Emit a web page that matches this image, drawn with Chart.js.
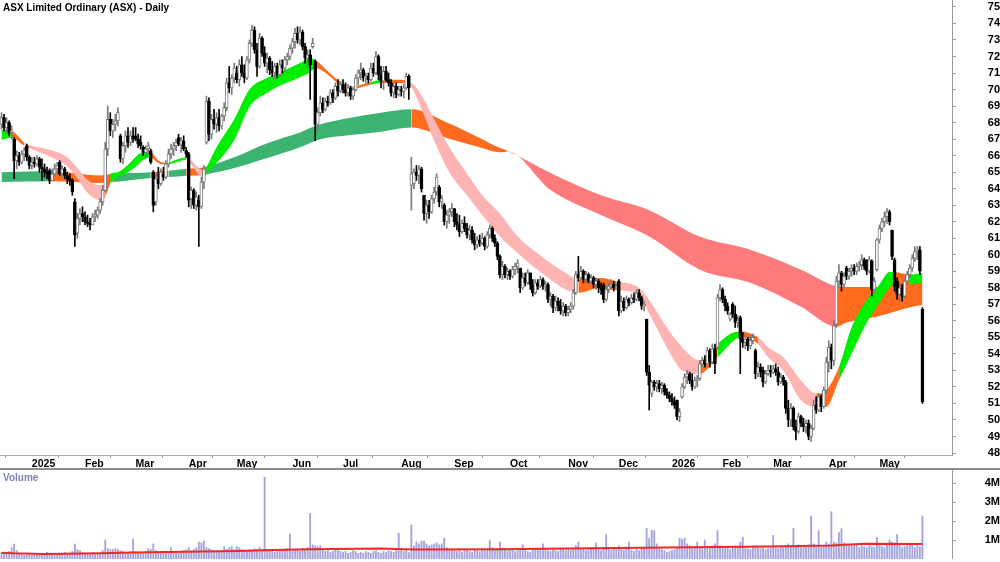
<!DOCTYPE html>
<html lang="en">
<head>
<meta charset="UTF-8">
<title>ASX Limited Ordinary (ASX) - Daily</title>
<script src="https://cdn.jsdelivr.net/npm/chart.js"></script>
<style>
  html, body { margin: 0; padding: 0; background: #fff; }
  .wrap { position: relative; width: 1000px; height: 562px; overflow: hidden; font-family: Arial, "Liberation Sans", sans-serif; }
  #priceChart { position: absolute; left: 0; top: 0; }
  #volChart { position: absolute; left: 0; top: 469px; }
  .sep { position: absolute; left: 0; top: 468px; width: 1000px; height: 2px; background: #8c8c8c; }
  .label { position: absolute; left: 3px; font-weight: bold; font-size: 10px; line-height: 12px; white-space: nowrap; }
</style>
</head>
<body>
<div class="wrap">
  <canvas id="priceChart" width="1000" height="470"></canvas>
  <canvas id="volChart" width="1000" height="90"></canvas>
  <div class="sep"></div>
  <div class="label" style="top:2px;color:#000">ASX Limited Ordinary (ASX) - Daily</div>
  <div class="label" style="top:472px;color:#8080c0">Volume</div>
</div>
<script>
// one entry per trading day, Dec 2024 .. May 2026
const open = [
  67.9,68.3,67.7,68.0,67.4,67.0,65.7,66.0,65.6,66.1,66.6,65.9,
  65.4,65.6,65.5,65.8,65.3,65.2,65.0,65.1,64.5,64.9,65.2,65.6,64.9,65.2,64.8,64.6,64.5,63.2,61.3,62.2,62.5,
  62.3,62.0,61.9,61.8,62.3,62.4,62.7,63.2,63.9,66.4,68.2,67.5,67.9,68.1,67.2,65.8,66.6,67.2,66.8,67.2,
  67.2,67.0,66.8,66.5,66.2,66.4,66.3,65.0,63.2,64.6,64.3,64.9,64.7,65.5,66.1,66.4,66.6,67.1,66.7,66.9,66.3,
  66.1,63.4,63.9,63.0,63.3,62.9,64.4,66.8,69.3,67.3,68.2,67.9,68.3,67.8,68.4,68.9,70.4,70.1,70.7,
  71.0,70.6,71.5,71.0,70.7,71.8,72.8,73.6,72.4,71.4,73.1,72.2,71.6,71.9,71.2,71.0,71.4,70.9,71.5,71.3,71.8,72.0,
  72.5,72.9,73.4,73.0,73.5,72.6,71.9,72.1,72.6,71.7,67.9,68.6,69.2,68.8,69.3,69.2,69.8,69.5,70.2,69.9,
  70.3,70.0,69.8,70.1,69.6,70.0,70.7,71.0,71.2,70.7,70.8,70.6,71.3,71.0,72.0,70.9,70.5,71.1,70.6,70.4,69.8,70.2,69.7,
  70.0,69.9,70.1,70.8,64.2,64.3,65.0,64.8,65.2,63.6,62.5,63.0,62.6,63.4,63.8,64.1,63.2,63.0,62.0,62.4,62.6,
  62.8,62.0,61.8,61.4,61.9,61.6,61.2,61.5,60.9,60.6,60.9,60.7,61.0,60.5,61.2,61.6,61.0,60.7,59.9,58.8,59.3,58.8,
  59.0,58.7,59.1,59.3,59.2,58.0,58.6,58.3,58.9,58.2,57.7,58.3,58.1,58.5,58.1,58.2,57.3,57.5,56.8,57.2,56.9,56.6,56.9,
  56.5,56.7,56.9,57.7,58.8,58.6,59.0,58.5,58.8,58.4,58.6,58.2,58.4,58.0,58.2,57.3,57.9,58.1,58.2,58.0,
  58.4,56.6,57.2,56.8,57.3,57.1,57.4,57.3,57.7,57.4,56.9,56.1,52.9,51.6,52.3,52.0,52.2,51.9,52.1,51.7,51.5,
  51.3,51.1,51.2,50.2,51.4,52.0,52.6,52.8,52.4,52.0,52.4,52.5,53.4,53.6,53.4,54.2,53.5,54.3,54.4,57.4,
  57.9,57.3,56.9,56.1,57.0,56.4,55.9,56.2,54.9,54.7,54.9,54.5,54.8,54.2,52.8,53.2,53.0,52.3,52.8,53.0,
  52.9,53.1,52.9,52.3,52.6,52.3,50.7,50.0,50.7,49.6,49.3,50.2,49.8,49.6,49.8,49.0,49.5,50.9,50.6,51.4,50.8,51.8,
  53.5,54.4,53.6,55.8,58.4,58.9,58.2,59.2,58.7,59.0,59.2,59.0,59.3,59.4,59.7,59.7,59.0,59.6,57.9,59.1,
  60.9,61.6,62.0,62.3,62.6,61.5,59.7,58.4,57.6,58.0,57.5,58.4,58.8,59.2,59.8,60.2,60.3,56.7
];
const high = [
  68.6,68.5,68.3,68.1,67.8,67.1,66.3,66.2,66.3,66.5,66.7,66.0,
  65.9,65.9,66.0,65.9,65.8,65.5,65.3,65.2,65.2,65.5,65.6,65.7,65.4,65.3,65.0,64.9,64.6,63.4,62.5,62.8,62.9,
  62.6,62.4,62.2,62.5,62.7,62.9,63.4,64.2,66.8,69.0,68.6,68.2,68.5,68.9,67.3,66.8,67.5,67.7,67.5,67.7,
  67.7,67.3,67.2,66.6,66.6,66.8,66.4,65.1,64.9,65.3,65.2,65.3,65.7,66.4,66.7,66.8,67.0,67.3,67.1,67.2,66.5,
  66.2,64.1,64.0,63.8,63.6,64.7,65.4,69.6,69.5,68.5,68.8,68.6,68.8,68.5,69.2,70.7,71.4,70.9,71.6,
  71.4,71.8,72.0,71.5,72.0,73.0,73.9,73.8,72.8,73.4,73.2,72.6,72.2,72.0,71.7,71.6,71.6,71.8,71.8,72.0,72.2,72.7,
  73.1,73.7,73.8,73.8,73.6,72.8,72.4,72.4,73.1,71.8,68.9,69.6,69.5,69.5,69.6,70.0,70.0,70.4,70.6,70.5,
  70.6,70.4,70.3,70.2,70.1,70.9,71.2,71.6,71.3,71.0,71.0,71.6,71.6,72.3,72.1,71.4,71.4,71.4,71.0,70.6,70.4,70.4,70.2,
  70.2,70.3,71.0,70.9,65.9,65.2,65.4,65.4,65.3,63.6,63.3,63.3,63.6,64.1,64.9,64.2,63.6,63.1,62.7,62.8,63.1,
  62.8,62.5,62.4,62.1,62.3,61.9,61.8,61.7,61.3,61.1,61.2,61.3,61.1,61.4,61.8,61.7,61.2,60.8,60.0,59.6,59.4,59.2,
  59.1,59.3,59.5,59.7,59.2,58.9,58.9,59.1,58.9,58.5,58.5,58.5,58.7,58.6,58.4,58.3,57.7,57.6,57.5,57.4,57.3,57.1,57.0,
  56.9,57.1,57.9,59.0,59.9,59.3,59.1,59.0,58.9,58.8,58.7,58.6,58.5,58.3,58.3,58.1,58.3,58.5,58.4,58.3,
  58.5,57.5,57.4,57.5,57.4,57.6,57.7,57.9,57.9,57.5,57.2,56.1,53.3,52.4,52.4,52.4,52.4,52.3,52.2,51.9,51.7,
  51.6,51.4,51.2,50.7,52.2,52.8,53.0,52.9,52.8,52.6,52.7,53.6,53.8,53.9,54.4,54.3,54.6,54.6,57.6,58.2,
  58.0,57.5,57.1,56.5,57.1,56.9,56.3,56.3,55.3,55.2,55.0,55.1,55.2,54.3,53.5,53.4,53.2,53.0,53.3,53.3,
  53.3,53.4,53.2,52.8,52.7,52.4,51.2,51.0,50.8,50.0,50.4,50.3,50.1,50.0,50.0,49.7,51.2,51.4,51.6,51.5,52.0,53.8,
  54.8,54.6,56.0,58.7,59.4,59.0,58.9,59.3,59.2,59.4,59.4,59.5,59.6,60.0,59.8,59.7,59.9,59.7,58.6,61.0,
  61.8,62.2,62.6,62.8,62.7,61.5,59.8,58.6,58.3,58.2,58.6,59.0,59.4,60.0,60.5,60.5,60.5,56.8
];
const low = [
  67.6,67.5,67.4,67.2,67.0,64.6,65.2,65.4,65.5,65.7,65.7,65.2,
  65.2,65.3,65.4,65.0,64.5,64.7,64.6,64.3,64.5,64.8,64.9,64.8,64.7,64.6,64.3,64.2,63.6,60.5,61.0,61.8,62.0,
  61.8,61.7,61.5,61.8,62.0,62.2,62.5,63.0,63.8,66.0,67.2,67.1,67.5,67.8,65.6,65.5,66.2,66.5,66.6,66.8,
  66.9,66.5,66.4,66.0,65.9,66.1,65.5,62.6,63.0,64.0,64.2,64.5,64.6,65.3,65.8,66.0,66.3,66.6,66.2,66.3,65.9,
  62.9,62.8,62.8,62.7,60.5,62.8,64.0,66.7,66.9,67.0,67.6,67.4,67.5,67.6,68.1,68.7,69.8,69.7,70.4,
  70.4,70.2,70.8,70.4,70.6,71.6,72.6,72.2,70.8,71.3,72.0,71.4,71.0,70.9,70.8,70.6,70.7,70.8,71.0,71.1,71.5,71.8,
  72.2,72.5,72.8,72.7,72.4,71.6,71.3,69.4,72.5,66.9,67.4,68.4,68.6,68.7,69.0,69.1,69.2,69.4,69.6,69.8,
  69.8,69.6,69.6,69.4,69.4,69.9,70.3,70.6,70.5,70.4,70.4,70.5,70.8,70.9,70.6,70.1,70.0,70.5,70.2,69.6,69.5,69.5,69.6,
  69.6,69.5,70.0,69.4,62.7,64.0,64.5,64.3,63.8,62.1,61.9,62.2,62.5,63.1,63.6,62.9,62.8,61.8,61.6,61.9,62.3,
  61.7,61.5,61.1,61.3,61.4,61.0,60.9,60.7,60.3,60.4,60.5,60.6,60.3,60.4,61.0,60.8,60.5,59.7,58.6,58.5,58.6,58.5,
  58.5,58.6,58.8,58.9,57.7,57.9,58.1,58.2,57.9,57.5,57.6,57.9,58.0,57.9,57.8,57.1,56.9,56.5,56.6,56.6,56.4,56.3,56.3,
  56.3,56.5,56.7,57.6,58.4,58.5,58.3,58.3,58.3,58.3,58.0,57.9,57.7,57.6,57.1,57.2,57.7,57.9,57.8,57.9,
  56.3,56.5,56.6,56.7,56.9,57.0,57.1,57.2,57.2,56.7,56.6,52.7,50.6,51.4,51.8,51.7,51.7,51.6,51.5,51.3,51.1,
  50.9,50.7,50.0,49.9,51.3,51.9,52.2,52.2,51.8,51.9,52.0,52.4,53.2,53.2,53.3,53.2,53.4,52.8,54.3,57.2,
  57.1,56.6,56.4,56.0,56.2,55.6,55.6,52.8,54.4,54.3,54.2,54.3,54.6,52.5,52.6,52.6,52.0,52.2,52.7,52.6,
  52.8,52.7,52.1,52.2,52.1,50.4,49.6,49.6,49.4,48.8,49.2,49.6,49.3,49.2,48.8,48.7,49.4,50.4,50.5,50.5,50.7,51.6,
  52.9,53.1,53.3,55.6,58.0,57.8,58.0,58.5,58.5,58.7,58.8,58.8,59.0,59.1,59.1,58.8,58.9,57.5,57.7,59.0,
  60.7,61.4,61.7,61.9,61.8,59.7,57.8,57.3,57.2,57.2,57.4,58.2,58.6,59.0,59.6,59.7,58.8,51.0
];
const close = [
  68.3,67.7,68.0,67.4,67.5,65.7,66.0,65.6,66.1,66.3,65.9,65.4,
  65.6,65.5,65.8,65.3,65.2,65.0,64.9,64.5,64.9,65.2,65.4,64.9,65.2,64.8,64.6,64.5,63.8,61.2,62.2,62.5,62.3,
  62.0,61.9,61.8,62.3,62.4,62.7,63.2,63.9,66.4,68.2,67.5,67.9,68.1,68.6,65.8,66.6,67.2,66.8,67.2,67.0,
  67.0,66.7,66.6,66.2,66.4,66.6,65.6,63.0,64.6,64.3,65.0,64.7,65.5,66.1,66.4,66.6,66.8,66.7,66.9,66.4,66.1,
  63.3,63.9,63.0,63.5,62.9,64.4,65.2,69.3,67.3,68.2,67.9,68.3,67.8,68.4,68.9,70.4,70.1,70.7,71.3,
  70.6,71.5,71.0,70.7,71.8,72.8,73.6,72.4,71.4,73.1,72.2,71.6,71.9,71.2,71.0,71.4,70.9,71.5,71.3,71.8,72.0,72.5,
  72.9,73.4,73.0,73.5,72.6,71.9,72.1,71.5,72.8,67.9,68.6,69.2,68.8,69.3,69.2,69.8,69.5,70.2,69.9,70.3,
  70.0,69.8,70.1,69.6,70.0,70.7,71.0,71.2,70.7,70.8,70.6,71.3,71.0,72.0,70.9,70.5,71.1,70.6,70.4,69.8,70.2,69.7,70.0,
  69.9,70.1,70.8,70.1,64.9,65.0,64.8,65.2,64.0,62.5,63.0,62.6,63.4,63.8,64.7,63.2,63.4,62.0,62.4,62.6,62.8,
  62.0,61.8,61.4,61.9,61.6,61.2,61.5,60.9,60.6,60.9,60.7,61.0,60.5,61.2,61.6,61.0,60.7,59.9,58.8,59.3,58.8,59.0,
  58.7,59.1,59.3,59.5,58.0,58.6,58.3,58.9,58.2,57.7,58.3,58.1,58.5,58.1,58.2,57.3,57.5,56.8,57.2,56.9,56.6,56.9,56.5,
  56.7,56.9,57.7,58.8,58.6,59.0,58.5,58.8,58.4,58.6,58.2,58.4,58.0,57.9,57.3,57.9,58.1,58.2,58.0,58.1,
  56.6,57.2,56.8,57.3,57.1,57.4,57.3,57.7,57.4,56.9,57.0,52.9,52.1,52.3,52.0,52.2,51.9,52.1,51.7,51.5,51.3,
  51.1,50.9,50.2,50.5,52.0,52.6,52.8,52.4,52.0,52.4,52.5,53.4,53.6,53.4,54.2,53.5,54.3,53.4,57.4,57.9,
  57.3,56.9,56.6,56.4,56.4,55.9,56.0,54.9,54.7,54.9,54.5,54.8,55.0,52.8,53.2,52.9,52.3,52.8,53.0,52.9,
  53.1,52.9,52.3,52.6,52.3,50.7,50.0,50.7,49.6,49.3,50.2,49.8,49.6,49.8,49.0,49.5,50.9,50.6,51.4,50.8,51.8,53.5,
  54.4,53.6,55.7,58.4,58.9,58.2,58.7,58.7,59.0,59.2,59.0,59.3,59.4,59.7,59.3,59.0,59.7,57.9,58.4,60.9,
  61.6,62.0,62.3,62.6,62.0,59.9,58.1,57.6,58.0,57.5,58.4,58.8,59.2,59.8,60.2,60.3,59.0,51.1
];
// volume in millions
const volume = [
  0.35,0.3,0.28,0.4,0.6,0.79,0.45,0.3,0.25,0.2,0.22,0.25,
  0.2,0.25,0.3,0.22,0.2,0.28,0.35,0.3,0.25,0.2,0.3,0.25,0.28,0.35,0.3,0.25,0.4,0.79,0.5,0.45,0.35,
  0.3,0.28,0.25,0.35,0.3,0.25,0.3,0.45,1.0,0.55,0.5,0.5,0.55,0.5,0.45,0.4,0.3,0.35,0.4,1.05,
  0.4,0.35,0.3,0.35,0.4,0.55,0.5,0.8,0.45,0.3,0.35,0.4,0.35,0.4,0.6,0.3,0.35,0.3,0.4,0.45,0.5,
  0.6,0.45,0.5,0.6,0.9,0.85,0.95,0.6,0.55,0.5,0.45,0.45,0.4,0.45,0.65,0.5,0.6,0.65,0.5,
  0.65,0.6,0.5,0.45,0.4,0.5,0.45,0.55,0.5,0.6,0.45,4.32,0.5,0.45,0.4,0.35,0.4,0.45,0.5,0.45,0.55,1.32,
  0.4,0.5,0.45,0.4,0.55,0.5,0.6,2.41,0.75,0.7,0.65,0.7,0.5,0.4,0.45,0.35,0.4,0.5,0.45,0.4,
  0.35,0.4,0.3,0.35,0.45,0.4,0.3,0.35,0.3,0.4,0.35,0.3,0.4,0.45,0.35,0.3,0.4,0.35,0.45,0.4,0.35,0.45,1.37,
  0.45,0.4,0.5,0.35,1.8,0.7,0.9,0.8,0.95,0.95,0.8,0.7,0.75,0.8,0.85,0.75,0.8,1.1,0.6,0.5,0.45,
  0.5,0.4,0.45,0.35,0.5,0.45,0.4,0.35,0.5,0.45,0.4,0.55,0.5,0.45,1.0,0.6,0.5,0.55,0.9,0.6,0.5,0.45,
  0.45,0.5,0.4,0.45,0.5,0.75,0.45,0.4,0.35,0.5,0.55,0.45,0.5,0.8,0.55,0.45,0.4,0.5,0.45,0.4,0.5,0.55,0.45,
  0.5,0.45,0.55,0.7,0.9,0.55,0.5,0.45,0.5,0.6,0.55,0.85,0.5,0.45,0.6,1.3,0.5,0.45,0.55,0.5,
  0.7,0.5,0.45,0.55,0.9,0.45,0.4,0.5,0.45,0.55,0.6,1.62,1.1,1.53,1.5,0.8,0.6,0.5,0.45,0.35,0.4,
  0.45,0.5,0.6,1.1,1.05,1.1,0.8,0.7,0.6,0.65,0.9,0.6,0.55,1.0,0.6,0.55,0.7,0.8,1.5,0.7,
  0.6,0.55,0.6,0.5,0.6,0.7,0.65,0.9,1.15,0.6,0.55,0.5,0.6,0.7,0.6,0.55,0.6,0.5,0.55,0.6,
  1.25,0.6,0.55,0.65,0.6,0.7,0.8,0.65,1.62,0.7,0.75,0.6,0.65,0.7,0.75,2.27,0.8,0.7,1.5,0.65,0.7,0.9,
  0.8,2.5,0.9,0.85,1.4,1.6,0.85,0.8,0.75,0.7,0.8,0.75,0.6,0.7,0.65,0.6,0.7,0.65,0.6,1.15,
  0.7,0.65,0.6,0.8,1.0,0.9,0.85,1.3,0.7,0.6,0.65,0.7,0.8,0.75,0.6,0.7,0.65,2.27
];

// volume average line, read at a few days
const volMaIdx = [0, 5, 17, 39, 52, 73, 94, 103, 122, 150, 163, 197, 224, 263, 303, 328, 341, 364];
const volMa = [0.33, 0.30, 0.27, 0.31, 0.35, 0.38, 0.42, 0.46, 0.52, 0.56, 0.50, 0.52, 0.56, 0.61, 0.66, 0.72, 0.80, 0.79];

// short ribbon (fast averages): day, upper, lower, trend of the stretch that follows
const shortIdx = [0,4,9,19,26,30,34,39,41,43,46,50,54,56,59,62,65,69,73,75,78,80,81,85,92,98,105,111,118,122,124,129,134,139,146,150,156,161,165,171,177,184,190,197,204,210,217,223,228,237,243,252,256,263,269,276,283,288,292,299,303,309,316,322,326,331,336,342,347,351,353,359,364];
const shortTop = [67.55,67.5,66.8,66.35,65.9,65.25,64.53,64.2,64.2,64.9,65.0,65.45,66.05,66.2,66.2,65.7,65.55,65.75,65.9,65.7,65.25,65.1,65.3,66.5,68.2,70.0,70.7,71.1,71.6,71.9,71.8,71.1,70.45,70.2,70.45,70.6,70.6,70.5,69.9,68.2,66.5,64.9,63.6,62.5,61.1,60.3,59.5,58.9,58.5,58.6,58.4,58.0,57.26,55.6,54.4,53.6,54.6,55.2,55.35,55.0,54.4,53.8,52.4,51.6,51.8,53.2,55.6,57.26,58.2,58.96,58.95,58.8,58.9];
const shortBot = [66.95,67.1,66.6,65.95,65.35,64.6,63.75,63.3,63.5,64.3,64.7,65.0,65.45,65.75,65.85,65.55,65.45,65.6,65.75,65.45,64.85,64.7,64.9,65.55,66.95,68.95,69.8,70.3,70.75,71.05,71.3,70.9,70.25,70.05,70.3,70.4,70.4,70.3,69.2,66.9,65.0,63.6,62.4,61.1,60.1,59.3,58.5,57.9,57.7,58.0,57.85,57.6,56.45,54.4,53.0,52.8,53.8,54.6,55.0,54.6,53.8,53.0,51.2,50.8,50.8,52.4,54.0,55.9,57.1,58.0,58.2,58.2,58.3];
const shortState = 'GOPPPPPPOGGGGGOOGGPPPOGGGGGGGGOOPOGOOPPPPPPPPPPPOOPPPPPOGGOPPPPOOGGGGGOGG';

// long ribbon (slow averages)
const longIdx = [0,19,39,44,59,66,73,80,92,105,118,125,138,150,162,176,189,197,200,217,237,256,276,296,316,330,334,347,360,364];
const longTop = [65.0,65.05,64.8,64.9,65.0,65.08,65.2,65.3,65.9,66.75,67.4,67.85,68.3,68.6,68.8,68.0,67.07,66.46,66.3,64.95,63.6,62.7,61.1,60.3,59.1,58.1,58.05,58.05,58.5,58.3];
const longBot = [64.4,64.45,64.35,64.4,64.65,64.7,64.78,64.85,65.25,65.85,66.5,66.95,67.25,67.45,67.7,67.07,66.5,66.2,66.25,63.92,62.4,61.1,59.1,58.3,56.85,55.65,55.9,56.3,56.85,56.96];
const longState = 'DOODODODDDDDDDOOOORRRRRRROOOOO';

const monthIdx = [12, 33, 53, 74, 93, 115, 135, 158, 179, 201, 224, 244, 265, 285, 305, 327, 347];
const monthLabels = ['2025', 'Feb', 'Mar', 'Apr', 'May', 'Jun', 'Jul', 'Aug', 'Sep', 'Oct', 'Nov', 'Dec', '2026', 'Feb', 'Mar', 'Apr', 'May'];
const priceTicks = [48,49,50,51,52,53,54,55,56,57,58,59,60,61,62,63,64,65,66,67,68,69,70,71,72,73,74,75];
const volTicks = [1, 2, 3, 4];

const ribbonColor = { G: '#00ee00', P: '#ffb4b4', O: '#ff6a1c', D: '#3cb371', R: '#ff7b7b' };
const fontFamily = 'Arial, "Liberation Sans", sans-serif';
const xFont = { family: fontFamily, size: 10.5, weight: 'bold' };
const yFont = { family: fontFamily, size: 11, weight: 'bold' };
const X_MIN = -0.593, X_MAX = 375.69;

const isUp = i => close[i] >= open[i];
const points = (xs, ys) => xs.map((x, k) => ({ x: x, y: ys[k] }));

const wickData = close.map((c, i) => ({ x: i, y: [low[i], high[i]] }));
const bodyData = close.map((c, i) => ({ x: i, y: [Math.min(open[i], c), Math.max(open[i], c)] }));

function ribbon(xs, top, bot, state, order) {
  return [
    { type: 'line', data: points(xs, top), borderWidth: 0, pointRadius: 0, fill: false,
      cubicInterpolationMode: 'monotone', order: order },
    { type: 'line', data: points(xs, bot), borderWidth: 0, pointRadius: 0, fill: '-1',
      backgroundColor: ribbonColor[state[0]],
      segment: { backgroundColor: s => ribbonColor[state[s.p0DataIndex]] },
      cubicInterpolationMode: 'monotone', order: order }
  ];
}

new Chart(document.getElementById('priceChart'), {
  type: 'bar',
  data: {
    datasets: [
      ...ribbon(longIdx, longTop, longBot, longState, 20),
      ...ribbon(shortIdx, shortTop, shortBot, shortState, 10),
      { data: wickData, grouped: false, barThickness: 1, order: 2,
        backgroundColor: c => isUp(c.dataIndex) ? '#7a7a7a' : '#000' },
      { data: bodyData, grouped: false, barThickness: 3, minBarLength: 1, order: 1,
        borderWidth: 1, borderSkipped: false,
        backgroundColor: c => isUp(c.dataIndex) ? '#fff' : '#000',
        borderColor: c => isUp(c.dataIndex) ? '#7a7a7a' : '#000' }
    ]
  },
  options: {
    responsive: false,
    animation: false,
    layout: { padding: 0 },
    plugins: { legend: { display: false }, tooltip: { enabled: false } },
    scales: {
      x: {
        type: 'linear', min: X_MIN, max: X_MAX, offset: false,
        grid: { drawOnChartArea: false, tickLength: 3, color: '#999' },
        border: { color: '#aaa' },
        ticks: { font: xFont, color: '#000', align: 'start', padding: 0, autoSkip: false, maxRotation: 0,
          callback: (v, i) => monthLabels[i] },
        afterBuildTicks: s => { s.ticks = monthIdx.map(v => ({ value: v })); },
        afterFit: s => { s.height = 15; s.paddingLeft = 0; s.paddingRight = 0; }
      },
      y: {
        position: 'right', min: 47.88, max: 75.42,
        grid: { drawOnChartArea: false, tickLength: 4, color: '#999' },
        border: { color: '#999' },
        ticks: { font: yFont, color: '#000', crossAlign: 'far', padding: 28 },
        afterBuildTicks: s => { s.ticks = priceTicks.map(v => ({ value: v })); },
        afterFit: s => { s.width = 48; s.paddingTop = 0; s.paddingBottom = 0; }
      }
    }
  }
});

new Chart(document.getElementById('volChart'), {
  type: 'bar',
  data: {
    datasets: [
      { type: 'line', data: points(volMaIdx, volMa), borderColor: '#f02828', borderWidth: 2,
        pointRadius: 0, fill: false, order: 0 },
      { data: volume.map((v, i) => ({ x: i, y: v })), barThickness: 1.2,
        backgroundColor: 'rgba(125,125,205,0.7)', order: 1 }
    ]
  },
  options: {
    responsive: false,
    animation: false,
    layout: { padding: 0 },
    plugins: { legend: { display: false }, tooltip: { enabled: false } },
    scales: {
      x: { type: 'linear', min: X_MIN, max: X_MAX, offset: false, display: false },
      y: {
        position: 'right', min: 0, max: 4.76,
        grid: { drawOnChartArea: false, tickLength: 4, color: '#999' },
        border: { color: '#999' },
        ticks: { font: yFont, color: '#000', crossAlign: 'far', padding: 25, callback: v => v + 'M' },
        afterBuildTicks: s => { s.ticks = volTicks.map(v => ({ value: v })); },
        afterFit: s => { s.width = 48; s.paddingTop = 0; s.paddingBottom = 0; }
      }
    }
  }
});
</script>
</body>
</html>
